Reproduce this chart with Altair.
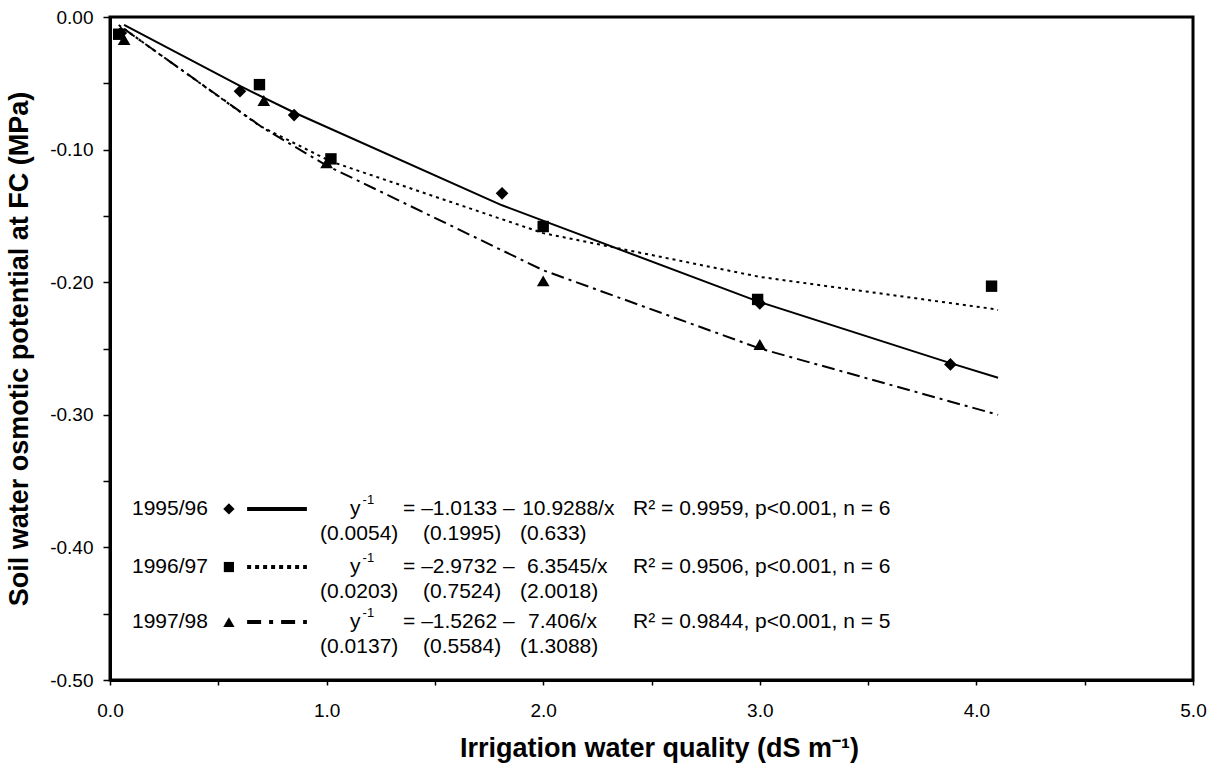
import altair as alt
import pandas as pd

# ---------------- data ----------------
# observed points
x95 = [0.05, 0.60, 0.85, 1.81, 3.00, 3.88]
y95 = [-0.012, -0.056, -0.074, -0.133, -0.216, -0.262]
x96 = [0.04, 0.69, 1.02, 2.00, 2.99, 4.07]
y96 = [-0.013, -0.051, -0.107, -0.158, -0.213, -0.203]
x97 = [0.065, 0.71, 1.00, 2.00, 3.00]
y97 = [-0.017, -0.063, -0.110, -0.199, -0.247]

# fitted curves (vertices as drawn)
fx95 = [0.065, 0.60, 0.85, 1.81, 3.00, 3.88, 4.10]
fy95 = [-0.006, -0.052, -0.072, -0.142, -0.215, -0.261, -0.272]
fx96 = [0.04, 0.69, 1.02, 2.00, 3.00, 4.07, 4.10]
fy96 = [-0.006, -0.082, -0.109, -0.163, -0.196, -0.220, -0.221]
fx97 = [0.065, 0.71, 1.00, 2.00, 3.00, 4.10]
fy97 = [-0.009, -0.084, -0.112, -0.191, -0.250, -0.300]

# legend texts
years = ["1995/96", "1996/97", "1997/98"]
eq_a = ["= \u20131.0133 \u2013", "= \u20132.9732 \u2013", "= \u20131.5262 \u2013"]
eq_b = ["10.9288/x", "6.3545/x", "7.406/x"]
se1 = ["(0.0054)", "(0.0203)", "(0.0137)"]
se2 = ["(0.1995)", "(0.7524)", "(0.5584)"]
se3 = ["(0.633)", "(2.0018)", "(1.3088)"]
r2 = ["R\u00b2 = 0.9959, p<0.001, n = 6",
      "R\u00b2 = 0.9506, p<0.001, n = 6",
      "R\u00b2 = 0.9844, p<0.001, n = 5"]

x_ticks = [0, 0.5, 1, 1.5, 2, 2.5, 3, 3.5, 4, 4.5, 5]
y_ticks = [0, -0.05, -0.1, -0.15, -0.2, -0.25, -0.3, -0.35, -0.4, -0.45, -0.5]

# ---------------- layout (legend placement in data units) ----------------
row_y = [-0.371, -0.4148, -0.4563]
sub_dy = -0.0190
X_YEAR_R = 0.452
X_MARK = 0.549
X_LINE = (0.633, 0.909)
X_Y = 1.108
X_SUP = 1.166
X_EQA = 1.353
X_EQB = [1.903, 1.925, 1.930]
X_SE = [0.970, 1.445, 1.893]
X_R2 = 2.415

FONT = "Liberation Sans, Arial, Helvetica, sans-serif"
LEG_FS = 21

xs = alt.Scale(domain=[0, 5], nice=False, zero=False)
ys = alt.Scale(domain=[-0.5, 0], nice=False, zero=False)

x_axis = alt.Axis(
    values=x_ticks,
    labelExpr="datum.value % 1 == 0 ? format(datum.value, '.1f') : ''",
    title="Irrigation water quality (dS m\u207b\u00b9)",
    titleX=549, titleY=68, titleBaseline="middle", titleAlign="center",
    titleFontSize=27, titleFontWeight="bold", titleFont=FONT, titleColor="black",
    labelFontSize=19, labelFont=FONT, labelColor="black",
    labelBaseline="middle", labelPadding=25, labelFlush=False, labelOverlap=False,
    tickSize=5, tickWidth=1.5, tickColor="black",
    domainWidth=3, domainColor="black", grid=False,
)
y_axis = alt.Axis(
    values=y_ticks,
    labelExpr="round(datum.value * 20) % 2 == 0 ? replace(format(datum.value, '.2f'), '\u2212', '-') : ''",
    title="Soil water osmotic potential at FC (MPa)",
    titleX=-91, titleY=331.5, titleAngle=-90, titleBaseline="middle", titleAlign="center",
    titleFontSize=27, titleFontWeight="bold", titleFont=FONT, titleColor="black",
    labelFontSize=19, labelFont=FONT, labelColor="black",
    labelPadding=10, labelFlush=False, labelOverlap=False,
    tickSize=7, tickWidth=1.5, tickColor="black",
    domainWidth=3, domainColor="black", grid=False,
)


def X():
    return alt.X("x:Q", scale=xs, axis=x_axis)


def Y():
    return alt.Y("y:Q", scale=ys, axis=y_axis)


DASHES = [None, [3, 4], [13, 5, 3, 5]]
SHAPES = ["diamond", "square", "triangle-up"]
SIZES = [160, 130, 160]

layers = []

# fitted curves
for i, (fx, fy) in enumerate([(fx95, fy95), (fx96, fy96), (fx97, fy97)]):
    df = pd.DataFrame({"x": fx, "y": fy})
    kw = {"color": "black", "strokeWidth": 2}
    if DASHES[i]:
        kw["strokeDash"] = DASHES[i]
    layers.append(alt.Chart(df).mark_line(**kw).encode(x=X(), y=Y()))

# points
for i, (px, py) in enumerate([(x95, y95), (x96, y96), (x97, y97)]):
    df = pd.DataFrame({"x": px, "y": py})
    layers.append(alt.Chart(df).mark_point(shape=SHAPES[i], filled=True, color="black",
                                           opacity=1, size=SIZES[i], strokeWidth=0)
                  .encode(x=X(), y=Y()))

# legend
for i in range(3):
    ry = row_y[i]
    sy = ry + sub_dy
    # marker
    layers.append(alt.Chart(pd.DataFrame({"x": [X_MARK], "y": [ry]}))
                  .mark_point(shape=SHAPES[i], filled=True, color="black", opacity=1,
                              size=SIZES[i] * 0.8, strokeWidth=0)
                  .encode(x=X(), y=Y()))
    # line sample
    kw = {"color": "black", "strokeWidth": 4}
    if DASHES[i]:
        kw["strokeDash"] = [4, 4] if i == 1 else [14, 8, 4, 8]
    layers.append(alt.Chart(pd.DataFrame({"x": list(X_LINE), "y": [ry, ry]}))
                  .mark_line(**kw).encode(x=X(), y=Y()))
    # texts on main row
    texts = pd.DataFrame({
        "x": [X_YEAR_R, X_Y, X_EQA, X_EQB[i], X_R2],
        "y": [ry] * 5,
        "t": [years[i], "y", eq_a[i], eq_b[i], r2[i]],
        "a": ["right", "left", "left", "left", "left"],
    })
    for align in ["right", "left"]:
        sub = texts[texts["a"] == align]
        layers.append(alt.Chart(sub).mark_text(align=align, baseline="middle", font=FONT,
                                               fontSize=LEG_FS, color="black")
                      .encode(x=X(), y=Y(), text="t:N"))
    # superscript -1
    layers.append(alt.Chart(pd.DataFrame({"x": [X_SUP], "y": [ry], "t": ["-1"]}))
                  .mark_text(align="left", baseline="middle", font=FONT, fontSize=13,
                             dy=-9, color="black")
                  .encode(x=X(), y=Y(), text="t:N"))
    # standard errors
    layers.append(alt.Chart(pd.DataFrame({"x": X_SE, "y": [sy] * 3,
                                          "t": [se1[i], se2[i], se3[i]]}))
                  .mark_text(align="left", baseline="middle", font=FONT, fontSize=LEG_FS,
                             color="black")
                  .encode(x=X(), y=Y(), text="t:N"))

chart = alt.layer(*layers).properties(
    width=1083, height=663,
    autosize=alt.AutoSizeParams(type="none"),
    padding={"left": 110, "top": 17, "right": 24, "bottom": 89},
    background="white",
).configure_view(stroke="black", strokeWidth=3)

chart.save("out.html", embed_options={"renderer": "svg", "actions": False})
